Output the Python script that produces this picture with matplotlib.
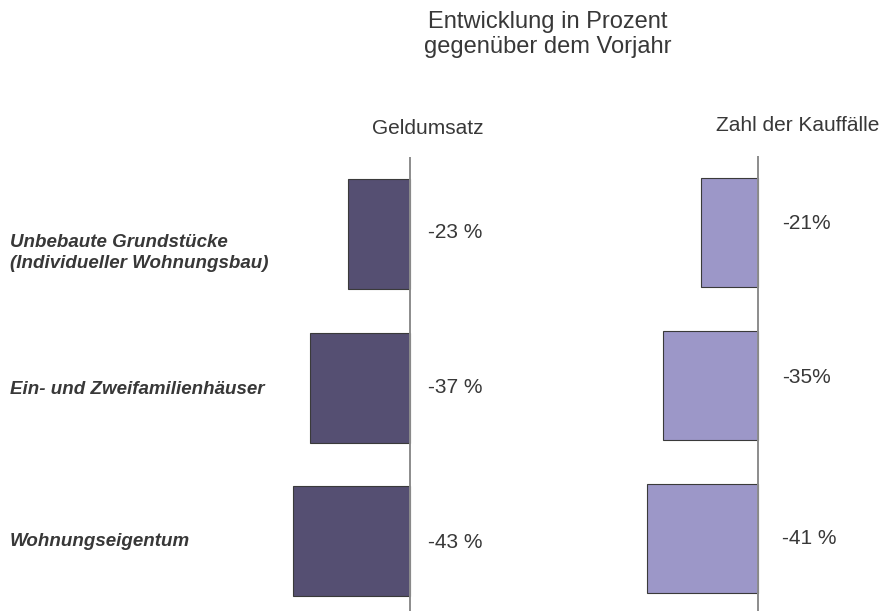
import matplotlib
matplotlib.use("Agg")
import matplotlib.pyplot as plt
import matplotlib.transforms as mtransforms

plt.rcParams['font.family'] = ['Liberation Sans', 'DejaVu Sans']

# data
categories = ["Unbebaute Grundstücke\n(Individueller Wohnungsbau)",
              "Ein- und Zweifamilienhäuser",
              "Wohnungseigentum"]
geldumsatz = [-23, -37, -43]
geldumsatz_labels = ["-23 %", "-37 %", "-43 %"]
kauffaelle = [-21, -35, -41]
kauffaelle_labels = ["-21%", "-35%", "-41 %"]

title_lines = ["Entwicklung in Prozent", "gegenüber dem Vorjahr"]
panel_titles = ["Geldumsatz", "Zahl der Kauffälle"]

dark = "#554f72"
light = "#9c97c8"
text_col = "#383838"

W, H = 885, 611
px_per_pct = 2.715


def fx(px):
    return px / W


def fy(py):
    return 1 - py / H


fig = plt.figure(figsize=(W / 100, H / 100), dpi=100)


def panel(x0, x1, zero_x, top, first_c, spacing, bar_h_px, values, labels, color, lab_dx, lab_dy):
    ax = fig.add_axes([fx(x0), fy(H), (x1 - x0) / W, (H - top) / H])
    ax.set_xlim(-(zero_x - x0) / px_per_pct, (x1 - zero_x) / px_per_pct)
    ax.set_ylim(2 + (H - (first_c + 2 * spacing)) / spacing, -(first_c - top) / spacing)
    ax.barh(range(len(values)), values, height=bar_h_px / spacing, color=color,
            edgecolor="#3a3a3a", linewidth=0.8, zorder=2)
    ax.axvline(0, color="#8c8c8c", linewidth=1.4, zorder=3)
    for i, lab in enumerate(labels):
        ax.text(lab_dx, i + lab_dy[i], lab, ha="left", va="center", fontsize=15, color=text_col)
    ax.axis("off")
    return ax


ax1 = panel(250, 570, 410, 157, 234, 153.5, 110, geldumsatz, geldumsatz_labels, dark,
            6.5, [-0.01, 0.0, 0.01])
ax2 = panel(600, 885, 758, 156, 232.5, 153.15, 109, kauffaelle, kauffaelle_labels, light,
            8.8, [-0.06, -0.05, 0.0])

# category labels on the left
trans = mtransforms.blended_transform_factory(fig.transFigure, ax1.transData)
nudge = [0.125, 0.01, 0.0]
for i, cat in enumerate(categories):
    ax1.text(fx(10), i + nudge[i], cat, transform=trans, ha="left", va="center",
             fontsize=13.5, fontweight="bold", fontstyle="italic", color=text_col,
             linespacing=1.3, clip_on=False)

# headings
fig.text(fx(548), fy(28), title_lines[0], ha="center", va="baseline", fontsize=17, color=text_col)
fig.text(fx(548), fy(53), title_lines[1], ha="center", va="baseline", fontsize=17, color=text_col)
fig.text(fx(428), fy(134), panel_titles[0], ha="center", va="baseline", fontsize=15, color=text_col)
fig.text(fx(798), fy(131), panel_titles[1], ha="center", va="baseline", fontsize=15, color=text_col)

fig.savefig("out.png", dpi=100)
